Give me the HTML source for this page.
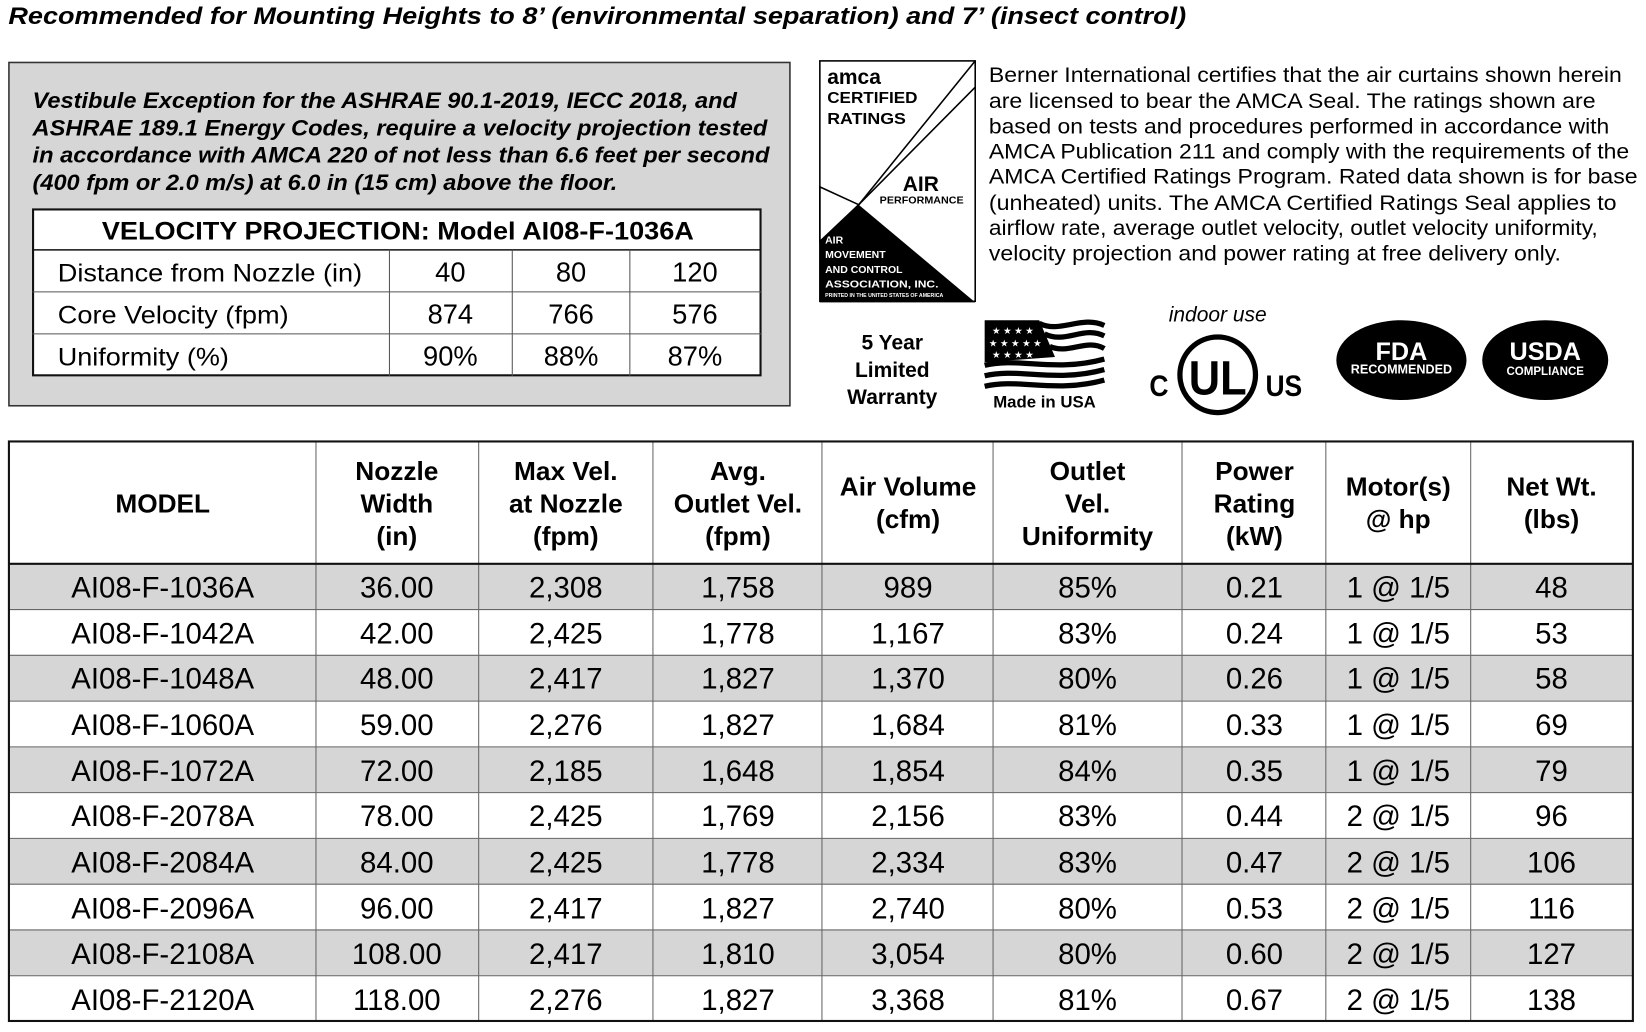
<!DOCTYPE html>
<html><head><meta charset="utf-8"><style>
html,body{margin:0;padding:0;background:#fff}
svg{display:block}
text{font-family:"Liberation Sans",sans-serif;fill:#000}
.c{transform-box:fill-box;transform-origin:center;transform:scaleX(.9)}
.tb text{font-size:28px;text-anchor:middle}
.vp text{font-size:26px;text-anchor:middle}
.hd text{font-size:25px;font-weight:bold;text-anchor:middle}
</style></head><body>
<svg width="1646" height="1032" viewBox="0 0 1568 983" preserveAspectRatio="none" xmlns="http://www.w3.org/2000/svg">
<text x="8" y="23" font-size="23" font-weight="bold" font-style="italic" textLength="1122" lengthAdjust="spacingAndGlyphs">Recommended for Mounting Heights to 8’ (environmental separation) and 7’ (insect control)</text>
<rect x="8.5" y="59.5" width="744" height="327" fill="#d6d6d6" stroke="#333" stroke-width="1.5"/>
<g font-size="21" font-weight="bold" font-style="italic">
<text x="31" y="103" textLength="671" lengthAdjust="spacingAndGlyphs">Vestibule Exception for the ASHRAE 90.1-2019, IECC 2018, and</text>
<text x="31" y="129" textLength="700" lengthAdjust="spacingAndGlyphs">ASHRAE 189.1 Energy Codes, require a velocity projection tested</text>
<text x="31" y="155" textLength="702" lengthAdjust="spacingAndGlyphs">in accordance with AMCA 220 of not less than 6.6 feet per second</text>
<text x="31" y="181" textLength="557" lengthAdjust="spacingAndGlyphs">(400 fpm or 2.0 m/s) at 6.0 in (15 cm) above the floor.</text>
</g>
<rect x="31.5" y="199.5" width="693" height="158" fill="#fff" stroke="#111" stroke-width="2"/>
<line x1="31" y1="238" x2="725" y2="238" stroke="#111" stroke-width="1.5"/>
<line x1="31" y1="278" x2="725" y2="278" stroke="#555" stroke-width="1"/>
<line x1="31" y1="318" x2="725" y2="318" stroke="#555" stroke-width="1"/>
<line x1="371" y1="238" x2="371" y2="358" stroke="#555"/>
<line x1="488" y1="238" x2="488" y2="358" stroke="#555"/>
<line x1="600" y1="238" x2="600" y2="358" stroke="#555"/>
<text x="97" y="228" font-size="24" font-weight="bold" textLength="564" lengthAdjust="spacingAndGlyphs">VELOCITY PROJECTION: Model AI08-F-1036A</text>
<g font-size="24">
<text x="55" y="268" textLength="290" lengthAdjust="spacingAndGlyphs">Distance from Nozzle (in)</text>
<text x="55" y="308" textLength="220" lengthAdjust="spacingAndGlyphs">Core Velocity (fpm)</text>
<text x="55" y="348" textLength="163" lengthAdjust="spacingAndGlyphs">Uniformity (%)</text>
</g>
<g class="vp">
<text x="429" y="268">40</text><text x="544" y="268">80</text><text x="662" y="268">120</text>
<text x="429" y="308">874</text><text x="544" y="308">766</text><text x="662" y="308">576</text>
<text x="429" y="348">90%</text><text x="544" y="348">88%</text><text x="662" y="348">87%</text>
</g>
<rect x="781" y="58" width="148" height="229" fill="#fff" stroke="#000" stroke-width="1.5"/>
<polygon points="781,230 818,195 929,288 781,288" fill="#000"/>
<polygon points="781,178 818,195 781,230" fill="none" stroke="#000" stroke-width="1.5"/>
<line x1="818" y1="195" x2="929" y2="58" stroke="#000" stroke-width="1.5"/>
<line x1="818" y1="195" x2="929" y2="83" stroke="#000" stroke-width="1.5"/>
<text x="788" y="80" font-size="20" font-weight="bold">amca</text>
<text x="788" y="98" font-size="15" font-weight="bold" textLength="86" lengthAdjust="spacingAndGlyphs">CERTIFIED</text>
<text x="788" y="118" font-size="15" font-weight="bold" textLength="75" lengthAdjust="spacingAndGlyphs">RATINGS</text>
<text x="860" y="182" font-size="20" font-weight="bold">AIR</text>
<text x="838" y="194" font-size="10" font-weight="bold" textLength="80" lengthAdjust="spacingAndGlyphs">PERFORMANCE</text>
<g font-size="10" font-weight="bold">
<text x="786" y="232" style="fill:#fff">AIR</text>
<text x="786" y="246" style="fill:#fff">MOVEMENT</text>
<text x="786" y="260" style="fill:#fff">AND CONTROL</text>
<text x="786" y="274" style="fill:#fff" textLength="108" lengthAdjust="spacingAndGlyphs">ASSOCIATION, INC.</text>
<text x="786" y="283" font-size="5" style="fill:#fff">PRINTED IN THE UNITED STATES OF AMERICA</text>
</g>
<g font-size="20">
<text x="942" y="78" textLength="603" lengthAdjust="spacingAndGlyphs">Berner International certifies that the air curtains shown herein</text>
<text x="942" y="103" textLength="578" lengthAdjust="spacingAndGlyphs">are licensed to bear the AMCA Seal.  The ratings shown are</text>
<text x="942" y="127" textLength="591" lengthAdjust="spacingAndGlyphs">based on tests and procedures performed in accordance with</text>
<text x="942" y="151" textLength="610" lengthAdjust="spacingAndGlyphs">AMCA Publication 211 and comply with the requirements of the</text>
<text x="942" y="175" textLength="618" lengthAdjust="spacingAndGlyphs">AMCA Certified Ratings Program.  Rated data shown is for base</text>
<text x="942" y="200" textLength="598" lengthAdjust="spacingAndGlyphs">(unheated) units.  The AMCA Certified Ratings Seal applies to</text>
<text x="942" y="224" textLength="580" lengthAdjust="spacingAndGlyphs">airflow rate, average outlet velocity, outlet velocity uniformity,</text>
<text x="942" y="248" textLength="545" lengthAdjust="spacingAndGlyphs">velocity projection and power rating  at free delivery only.</text>
</g>
<g font-size="20" font-weight="bold" text-anchor="middle">
<text x="850" y="333">5 Year</text><text x="850" y="359">Limited</text><text x="850" y="385">Warranty</text>
</g>
<g>
<polygon points="938,305 990,305 1005,340 938,345" fill="#000"/>
<path d="M990,308 C1010,318 1030,300 1052,310 M995,318 C1015,328 1032,310 1052,320 M1000,330 C1018,338 1035,322 1052,332 M938,348 C970,340 1005,355 1052,342 M938,358 C970,350 1005,365 1052,352 M938,368 C970,360 1005,375 1052,362" stroke="#000" stroke-width="5" fill="none"/>
<g font-size="9"><text x="945" y="318" style="fill:#fff">★ ★ ★ ★</text><text x="942" y="330" style="fill:#fff">★ ★ ★ ★ ★</text><text x="945" y="341" style="fill:#fff">★ ★ ★ ★</text></g>
<text x="995" y="388" font-size="16" font-weight="bold" text-anchor="middle">Made in USA</text>
</g>
<text x="1160" y="306" font-size="20" font-style="italic" text-anchor="middle">indoor use</text>
<circle cx="1160" cy="357" r="36" fill="none" stroke="#000" stroke-width="5"/>
<text x="1160" y="376" font-size="46" font-weight="bold" text-anchor="middle" class="c">UL</text>
<text x="1104" y="377" font-size="28" font-weight="bold" text-anchor="middle" class="c">C</text>
<text x="1223" y="377" font-size="28" font-weight="bold" text-anchor="middle" class="c">US</text>
<ellipse cx="1335" cy="343" rx="62" ry="38" fill="#000"/>
<ellipse cx="1472" cy="343" rx="60" ry="38" fill="#000"/>
<text x="1335" y="343" font-size="24" font-weight="bold" text-anchor="middle" style="fill:#fff">FDA</text>
<text x="1335" y="356" font-size="12" font-weight="bold" text-anchor="middle" style="fill:#fff">RECOMMENDED</text>
<text x="1472" y="343" font-size="24" font-weight="bold" text-anchor="middle" style="fill:#fff">USDA</text>
<text x="1472" y="357" font-size="11" font-weight="bold" text-anchor="middle" style="fill:#fff">COMPLIANCE</text>
<g fill="#d6d6d6">
<rect x="8" y="537" width="1548" height="43.6"/>
<rect x="8" y="624.2" width="1548" height="43.6"/>
<rect x="8" y="711.4" width="1548" height="43.6"/>
<rect x="8" y="798.6" width="1548" height="43.6"/>
<rect x="8" y="885.8" width="1548" height="43.6"/>
</g>
<g stroke="#666" stroke-width="1">
<line x1="8" y1="580.6" x2="1556" y2="580.6"/><line x1="8" y1="624.2" x2="1556" y2="624.2"/>
<line x1="8" y1="667.8" x2="1556" y2="667.8"/><line x1="8" y1="711.4" x2="1556" y2="711.4"/>
<line x1="8" y1="755" x2="1556" y2="755"/><line x1="8" y1="798.6" x2="1556" y2="798.6"/>
<line x1="8" y1="842.2" x2="1556" y2="842.2"/><line x1="8" y1="885.8" x2="1556" y2="885.8"/>
<line x1="8" y1="929.4" x2="1556" y2="929.4"/>
<line x1="301" y1="420" x2="301" y2="973"/><line x1="456" y1="420" x2="456" y2="973"/>
<line x1="622" y1="420" x2="622" y2="973"/><line x1="783" y1="420" x2="783" y2="973"/>
<line x1="946" y1="420" x2="946" y2="973"/><line x1="1126" y1="420" x2="1126" y2="973"/>
<line x1="1263" y1="420" x2="1263" y2="973"/><line x1="1401" y1="420" x2="1401" y2="973"/>
</g>
<line x1="8" y1="537" x2="1556" y2="537" stroke="#111" stroke-width="2"/>
<rect x="8.5" y="420.5" width="1547" height="552" fill="none" stroke="#111" stroke-width="2"/>
<g class="hd">
<text x="155" y="488">MODEL</text>
<text x="378" y="457">Nozzle</text><text x="378" y="488">Width</text><text x="378" y="519">(in)</text>
<text x="539" y="457">Max Vel.</text><text x="539" y="488">at Nozzle</text><text x="539" y="519">(fpm)</text>
<text x="703" y="457">Avg.</text><text x="703" y="488">Outlet Vel.</text><text x="703" y="519">(fpm)</text>
<text x="865" y="472">Air Volume</text><text x="865" y="503">(cfm)</text>
<text x="1036" y="457">Outlet</text><text x="1036" y="488">Vel.</text><text x="1036" y="519">Uniformity</text>
<text x="1195" y="457">Power</text><text x="1195" y="488">Rating</text><text x="1195" y="519">(kW)</text>
<text x="1332" y="472">Motor(s)</text><text x="1332" y="503">@ hp</text>
<text x="1478" y="472">Net Wt.</text><text x="1478" y="503">(lbs)</text>
</g>
<g class="tb">
<text x="155" y="569">AI08-F-1036A</text><text x="378" y="569">36.00</text><text x="539" y="569">2,308</text><text x="703" y="569">1,758</text><text x="865" y="569">989</text><text x="1036" y="569">85%</text><text x="1195" y="569">0.21</text><text x="1332" y="569">1 @ 1/5</text><text x="1478" y="569">48</text>
<text x="155" y="613">AI08-F-1042A</text><text x="378" y="613">42.00</text><text x="539" y="613">2,425</text><text x="703" y="613">1,778</text><text x="865" y="613">1,167</text><text x="1036" y="613">83%</text><text x="1195" y="613">0.24</text><text x="1332" y="613">1 @ 1/5</text><text x="1478" y="613">53</text>
<text x="155" y="656">AI08-F-1048A</text><text x="378" y="656">48.00</text><text x="539" y="656">2,417</text><text x="703" y="656">1,827</text><text x="865" y="656">1,370</text><text x="1036" y="656">80%</text><text x="1195" y="656">0.26</text><text x="1332" y="656">1 @ 1/5</text><text x="1478" y="656">58</text>
<text x="155" y="700">AI08-F-1060A</text><text x="378" y="700">59.00</text><text x="539" y="700">2,276</text><text x="703" y="700">1,827</text><text x="865" y="700">1,684</text><text x="1036" y="700">81%</text><text x="1195" y="700">0.33</text><text x="1332" y="700">1 @ 1/5</text><text x="1478" y="700">69</text>
<text x="155" y="744">AI08-F-1072A</text><text x="378" y="744">72.00</text><text x="539" y="744">2,185</text><text x="703" y="744">1,648</text><text x="865" y="744">1,854</text><text x="1036" y="744">84%</text><text x="1195" y="744">0.35</text><text x="1332" y="744">1 @ 1/5</text><text x="1478" y="744">79</text>
<text x="155" y="787">AI08-F-2078A</text><text x="378" y="787">78.00</text><text x="539" y="787">2,425</text><text x="703" y="787">1,769</text><text x="865" y="787">2,156</text><text x="1036" y="787">83%</text><text x="1195" y="787">0.44</text><text x="1332" y="787">2 @ 1/5</text><text x="1478" y="787">96</text>
<text x="155" y="831">AI08-F-2084A</text><text x="378" y="831">84.00</text><text x="539" y="831">2,425</text><text x="703" y="831">1,778</text><text x="865" y="831">2,334</text><text x="1036" y="831">83%</text><text x="1195" y="831">0.47</text><text x="1332" y="831">2 @ 1/5</text><text x="1478" y="831">106</text>
<text x="155" y="875">AI08-F-2096A</text><text x="378" y="875">96.00</text><text x="539" y="875">2,417</text><text x="703" y="875">1,827</text><text x="865" y="875">2,740</text><text x="1036" y="875">80%</text><text x="1195" y="875">0.53</text><text x="1332" y="875">2 @ 1/5</text><text x="1478" y="875">116</text>
<text x="155" y="918">AI08-F-2108A</text><text x="378" y="918">108.00</text><text x="539" y="918">2,417</text><text x="703" y="918">1,810</text><text x="865" y="918">3,054</text><text x="1036" y="918">80%</text><text x="1195" y="918">0.60</text><text x="1332" y="918">2 @ 1/5</text><text x="1478" y="918">127</text>
<text x="155" y="962">AI08-F-2120A</text><text x="378" y="962">118.00</text><text x="539" y="962">2,276</text><text x="703" y="962">1,827</text><text x="865" y="962">3,368</text><text x="1036" y="962">81%</text><text x="1195" y="962">0.67</text><text x="1332" y="962">2 @ 1/5</text><text x="1478" y="962">138</text>
</g>
</svg>
</body></html>
